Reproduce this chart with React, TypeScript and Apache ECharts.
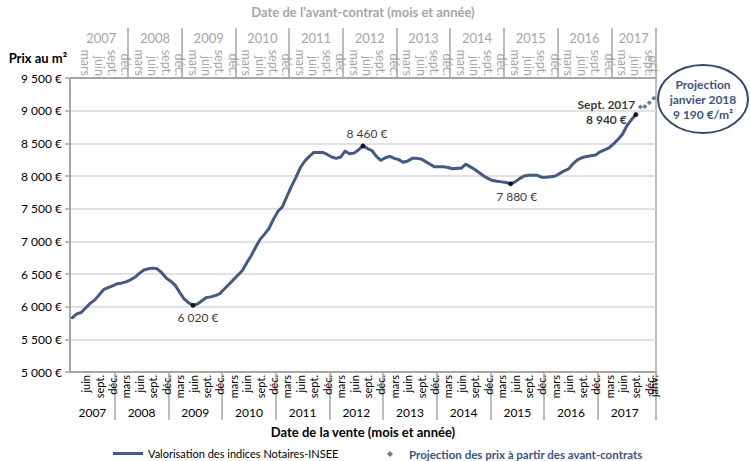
import React, { useEffect, useRef } from 'react';
import * as echarts from 'echarts';

// ---------- data ----------
// Sale months (bottom axis): March 2007 .. January 2018
const SALE_START_YEAR = 2007;
const SALE_START_MONTH = 3;
const MONTH_COUNT = 131;
// Avant-contrat months (top axis) are three months earlier than sale months
const CONTRACT_LAG_MONTHS = 3;

const buildMonths = (y0: number, m0: number, n: number): string[] => {
  const out: string[] = [];
  for (let k = 0; k < n; k++) {
    const t = y0 * 12 + (m0 - 1) + k;
    const y = Math.floor(t / 12);
    const m = (t % 12) + 1;
    out.push(`${y}-${String(m).padStart(2, '0')}`);
  }
  return out;
};

const saleMonths = buildMonths(SALE_START_YEAR, SALE_START_MONTH, MONTH_COUNT);
const contractMonths = buildMonths(SALE_START_YEAR, SALE_START_MONTH - CONTRACT_LAG_MONTHS, MONTH_COUNT);

// Valorisation des indices Notaires-INSEE (€/m²), March 2007 .. September 2017
const priceValues = [
  5830, 5890, 5910, 5980, 6050, 6100, 6180, 6260, 6290, 6320,
  6350, 6360, 6380, 6410, 6450, 6510, 6560, 6580, 6590, 6580,
  6520, 6440, 6390, 6330, 6220, 6120, 6060, 6020, 6040, 6090,
  6140, 6150, 6170, 6200, 6270, 6340, 6410, 6480, 6550, 6670,
  6780, 6910, 7030, 7110, 7200, 7340, 7460, 7530, 7690, 7840,
  7980, 8130, 8230, 8300, 8360, 8360, 8360, 8330, 8290, 8270,
  8290, 8380, 8340, 8350, 8400, 8460, 8420, 8390, 8300, 8240,
  8280, 8300, 8270, 8250, 8210, 8230, 8270, 8270, 8260, 8220,
  8180, 8140, 8140, 8140, 8130, 8110, 8120, 8120, 8180, 8140,
  8100, 8050, 8000, 7960, 7930, 7920, 7910, 7900, 7880, 7910,
  7960, 8000, 8010, 8010, 8010, 7980, 7980, 7990, 8000, 8040,
  8080, 8110, 8190, 8250, 8280, 8300, 8310, 8320, 8370, 8400,
  8430, 8490, 8560, 8640, 8770, 8860, 8940,
];

// Projection des prix à partir des avant-contrats
const projectionMonths = ['2017-10', '2017-11', '2017-12', '2018-01'];
const projectionValues = [9055, 9065, 9120, 9190];

// Annotated points
const annotatedMonths = ['2009-06', '2012-08', '2015-05', '2017-09'];
const annotatedValues = [6020, 8460, 7880, 8940];

// Y axis ticks
const Y_MIN = 5000;
const Y_MAX = 9500;
const Y_STEP = 500;

const MONTH_LABELS: Record<number, string> = {
  1: 'janv.', 3: 'mars', 6: 'juin', 9: 'sept.', 10: 'oct.', 12: 'déc.',
};

const SERIES_NAME = 'Valorisation des indices Notaires-INSEE';
const PROJ_NAME = 'Projection des prix à partir des avant-contrats';

// ---------- styles ----------
const FONT = 'Lato, "Open Sans", sans-serif';
const AXIS_GRAY = '#a6a6a6';
const GRID_GRAY = '#d9d9d9';
const LINE_BLUE = '#41598b';
const PROJ_BLUE = '#3e5a93';
const TEXT_BLUE = '#3b5389';

const mon = (c: string) => Number(c.slice(5, 7));
const yr = (c: string) => Number(c.slice(0, 4));
const fmtEuro = (v: number) =>
  `${Math.floor(v / 1000)} ${String(Math.round(v) % 1000).padStart(3, '0')} €`;

// label placement for annotated points (style, not data)
const annotationLabels = [
  { position: 'bottom', offset: [5, 0], bold: false, text: (m: string, v: number) => fmtEuro(v) },
  { position: 'top', offset: [4, 0], bold: false, text: (m: string, v: number) => fmtEuro(v) },
  { position: 'bottom', offset: [6, 0], bold: false, text: (m: string, v: number) => fmtEuro(v) },
  {
    position: 'left', offset: [-23, -3], bold: true,
    text: (m: string, v: number) => `{a|Sept. ${yr(m)}}\n{b|${fmtEuro(v)}}`,
  },
];

const BOTTOM_MONTH_LABEL = { rotate: 90, margin: 3, fontSize: 11, color: '#000', fontFamily: FONT };
const TOP_MONTH_LABEL = { rotate: 90, margin: 2, fontSize: 12.5, color: AXIS_GRAY, fontFamily: FONT };

const buildOption = () => {
  const lastSale = saleMonths.length - 1;
  const lastContract = contractMonths.length - 1;
  const projLast = projectionValues[projectionValues.length - 1];
  const projLastMonth = projectionMonths[projectionMonths.length - 1];
  const projMonthName = new Date(yr(projLastMonth), mon(projLastMonth) - 1, 1)
    .toLocaleString('fr-FR', { month: 'long' });
  const quarterly = (i: number, v: string) => i > 0 && [3, 6, 9, 12].includes(mon(v));
  const monthFmt = (v: string) => MONTH_LABELS[mon(v)] || '';

  return {
    animation: false,
    backgroundColor: '#ffffff',
    textStyle: { fontFamily: FONT },
    grid: {
      left: 70, right: 94, top: 78, bottom: 89,
      show: true, borderColor: AXIS_GRAY, borderWidth: 1.5,
      backgroundColor: 'transparent',
      outerBoundsMode: 'none',
    },
    xAxis: [
      {
        // bottom months
        type: 'category', position: 'bottom', data: saleMonths, boundaryGap: true,
        axisLine: { show: true, onZero: false, lineStyle: { color: AXIS_GRAY, width: 2 } },
        axisTick: {
          show: true, length: 48,
          interval: (i: number, v: string) => mon(v) === 1 && i < lastSale,
          lineStyle: { color: AXIS_GRAY, width: 1.5 },
        },
        axisLabel: {
          ...BOTTOM_MONTH_LABEL,
          interval: (i: number, v: string) => quarterly(i, v) && i < lastSale,
          formatter: monthFmt,
        },
        splitLine: { show: false },
      },
      {
        // bottom years
        type: 'category', position: 'bottom', data: saleMonths, boundaryGap: true,
        axisLine: { show: false, onZero: false },
        axisTick: { show: false },
        axisLabel: {
          interval: (i: number, v: string) => (yr(v) === 2007 ? mon(v) === 7 : mon(v) === 6),
          margin: 34,
          formatter: (v: string) => `{p|${yr(v)}}`,
          rich: { p: { padding: [0, 0, 0, 4.5], fontSize: 12, color: '#000', fontFamily: FONT } },
        },
        splitLine: { show: false },
        name: 'Date de la vente (mois et année)',
        nameLocation: 'middle', nameGap: 53, nameMoveOverlap: false,
        nameTextStyle: { fontWeight: 'bold', fontSize: 13, color: '#000', fontFamily: FONT },
      },
      {
        // top months (avant-contrat)
        type: 'category', position: 'top', data: contractMonths, boundaryGap: true,
        axisLine: { show: true, onZero: false, lineStyle: { color: AXIS_GRAY, width: 2 } },
        axisTick: {
          show: true, length: 50,
          interval: (i: number, v: string) => mon(v) === 1 && i > 1,
          lineStyle: { color: AXIS_GRAY, width: 1.5 },
        },
        axisLabel: {
          ...TOP_MONTH_LABEL,
          interval: (i: number, v: string) => quarterly(i, v) && i < lastContract,
          formatter: monthFmt,
        },
        splitLine: { show: false },
      },
      {
        // top years
        type: 'category', position: 'top', data: contractMonths, boundaryGap: true,
        axisLine: { show: false, onZero: false },
        axisTick: { show: false },
        axisLabel: {
          interval: (i: number, v: string) =>
            yr(v) === yr(contractMonths[lastContract]) ? mon(v) === 5 : (mon(v) === 6 && i > 0),
          margin: 34,
          formatter: (v: string) => `{p|${yr(v)}}`,
          rich: { p: { padding: [0, 0, 0, 4.5], fontSize: 13, color: AXIS_GRAY, fontFamily: FONT } },
        },
        splitLine: { show: false },
        name: "Date de l'avant-contrat (mois et année)",
        nameLocation: 'middle', nameGap: 60, nameMoveOverlap: false,
        nameTextStyle: { fontWeight: 'bold', fontSize: 13, color: AXIS_GRAY, fontFamily: FONT },
      },
      {
        // bottom: last month label (overlaps the previous one, as in the original)
        type: 'category', position: 'bottom', data: saleMonths, boundaryGap: true,
        axisLine: { show: false, onZero: false },
        axisTick: { show: false },
        axisLabel: {
          ...BOTTOM_MONTH_LABEL,
          interval: (i: number) => i === lastSale,
          showMaxLabel: true,
          formatter: monthFmt,
        },
        splitLine: { show: false },
      },
      {
        // top: last month label
        type: 'category', position: 'top', data: contractMonths, boundaryGap: true,
        axisLine: { show: false, onZero: false },
        axisTick: { show: false },
        axisLabel: {
          ...TOP_MONTH_LABEL,
          interval: (i: number) => i === lastContract,
          showMaxLabel: true,
          formatter: monthFmt,
        },
        splitLine: { show: false },
      },
    ],
    yAxis: {
      type: 'value', min: Y_MIN, max: Y_MAX, interval: Y_STEP, position: 'left',
      axisLine: { show: true, lineStyle: { color: AXIS_GRAY, width: 2 } },
      axisTick: { show: true, length: 5, lineStyle: { color: AXIS_GRAY, width: 1.5 } },
      axisLabel: { formatter: (v: number) => fmtEuro(v), fontSize: 12, color: '#000', margin: 8, fontFamily: FONT },
      splitLine: { show: true, lineStyle: { color: GRID_GRAY, width: 1.5 } },
      name: 'Prix au m²', nameLocation: 'end', nameGap: 14,
      nameTextStyle: {
        fontWeight: 'bold', fontSize: 13, color: '#000', fontFamily: FONT,
        align: 'right', padding: [0, 3, 0, 0],
      },
    },
    legend: [
      {
        data: [{ name: SERIES_NAME, icon: 'rect' }],
        left: 108, top: 443, itemWidth: 30, itemHeight: 3, itemGap: 0,
        textStyle: { fontSize: 11, color: '#000', fontFamily: FONT },
        selectedMode: false,
      },
      {
        data: [{ name: PROJ_NAME, icon: 'diamond' }],
        left: 382, top: 443, itemWidth: 6, itemHeight: 6, itemGap: 0,
        symbolKeepAspect: true,
        textStyle: {
          fontSize: 11.5, color: TEXT_BLUE, fontWeight: 'bold', fontFamily: FONT,
          padding: [0, 0, 0, 11],
        },
        selectedMode: false,
      },
    ],
    series: [
      {
        name: SERIES_NAME, type: 'line', xAxisIndex: 0, yAxisIndex: 0,
        data: priceValues, showSymbol: false, symbol: 'none', smooth: false,
        lineStyle: { color: LINE_BLUE, width: 3, cap: 'round', join: 'round' },
        itemStyle: { color: LINE_BLUE },
        z: 3,
      },
      {
        name: PROJ_NAME, type: 'scatter', xAxisIndex: 0, yAxisIndex: 0,
        data: projectionMonths.map((m, k) => [m, projectionValues[k]]),
        symbol: 'diamond', symbolSize: 5, symbolKeepAspect: true,
        itemStyle: { color: PROJ_BLUE },
        z: 4,
      },
      {
        name: 'annotations', type: 'scatter', xAxisIndex: 0, yAxisIndex: 0,
        symbol: 'circle', symbolSize: 5,
        itemStyle: { color: '#000' },
        z: 5,
        data: annotatedMonths.map((m, k) => {
          const cfg = annotationLabels[k];
          return {
            value: [m, annotatedValues[k]],
            label: {
              show: true,
              position: cfg.position,
              offset: cfg.offset,
              distance: 4,
              formatter: () => cfg.text(m, annotatedValues[k]),
              fontSize: 12,
              fontWeight: cfg.bold ? 'bold' : 'normal',
              color: '#000',
              fontFamily: FONT,
              align: cfg.bold ? 'center' : undefined,
              rich: cfg.bold
                ? {
                    a: { fontWeight: 'bold', fontSize: 12, color: '#000', fontFamily: FONT, lineHeight: 15, align: 'center', width: 64 },
                    b: { fontWeight: 'bold', fontSize: 12, color: '#000', fontFamily: FONT, lineHeight: 15, align: 'center', width: 64 },
                  }
                : undefined,
            },
          };
        }),
      },
    ],
    graphic: [
      {
        type: 'ellipse',
        shape: { cx: 703, cy: 99, rx: 45, ry: 34 },
        style: { fill: '#ffffff', stroke: '#2f4b7c', lineWidth: 2 },
        z: 10,
      },
      {
        type: 'text',
        x: 703, y: 99, z: 11,
        style: {
          text: `Projection\n${projMonthName} ${yr(projLastMonth)}\n${fmtEuro(projLast)}/m²`,
          align: 'center', verticalAlign: 'middle',
          fontFamily: FONT, fontSize: 12, fontWeight: 'bold',
          fill: TEXT_BLUE, lineHeight: 15,
        },
      },
    ],
  };
};

export default function App() {
  const ref = useRef<HTMLDivElement>(null);
  useEffect(() => {
    document.body.style.margin = '0';
    const chart = echarts.init(ref.current as HTMLDivElement, null, { renderer: 'svg' });
    chart.setOption(buildOption() as any);
    return () => chart.dispose();
  }, []);
  return <div ref={ref} style={{ width: 750, height: 461 }} />;
}
